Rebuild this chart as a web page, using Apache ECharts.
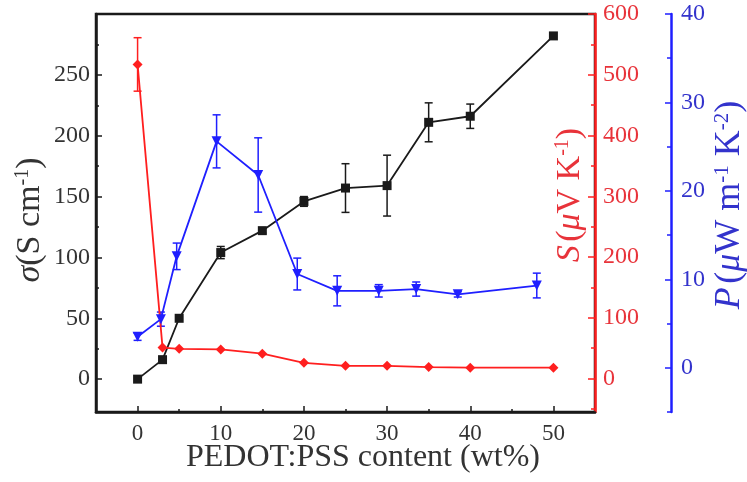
<!DOCTYPE html>
<html>
<head>
<meta charset="utf-8">
<script src="https://cdn.jsdelivr.net/npm/echarts@6/dist/echarts.min.js"></script>
<style>
  html, body { margin: 0; padding: 0; background: #fff; }
  #main { width: 747px; height: 482px; }
</style>
</head>
<body>
<div id="main"></div>
<script>
// PEDOT:PSS content (wt%)
var xContent = [0, 3, 5, 10, 15, 20, 25, 30, 35, 40, 50];
// conductivity, S cm-1
var sigma = [0, 16, 50, 104, 122, 146, 157, 159, 211, 216, 282];
var sigmaErr = [0, 0, 0, 5, 2, 4, 20, 25, 16, 10, 0];
// Seebeck, uV K-1
var seebeck = [517, 51, 49, 48, 41, 26, 21, 21, 19, 18, 18];
var seebeckErr = [44, 0, 0, 0, 0, 0, 0, 0, 0, 0, 0];
// power factor, uW m-1 K-2 (blue points sit a bit left in the figure)
var xPower = [0, 2.8, 4.7, 9.5, 14.5, 19.2, 24, 29, 33.5, 38.5, 48];
var power = [3.5, 5.5, 12.6, 25.6, 21.8, 10.6, 8.7, 8.7, 8.9, 8.3, 9.3];
var powerErr = [0.4, 0.8, 1.5, 3, 4.2, 1.8, 1.7, 0.7, 0.8, 0.3, 1.4];

var xTicks = [0, 10, 20, 30, 40, 50];
var xMinor = [-5, 5, 15, 25, 35, 45];
var sigmaTicks = [0, 50, 100, 150, 200, 250];
var sigmaMinor = [25, 75, 125, 175, 225, 275];
var seebeckTicks = [0, 100, 200, 300, 400, 500, 600];
var seebeckMinor = [-50, 50, 150, 250, 350, 450, 550];
var powerTicks = [0, 10, 20, 30, 40];
var powerMinor = [-5, 5, 15, 25, 35];

var FONT = '"Liberation Serif", "DejaVu Serif", serif';
var BLACK = '#1a1a1a', RED = '#ff1f1f', BLUE = '#1f1fff';

function pairs(xs, ys) {
    var out = [];
    for (var i = 0; i < xs.length; i++) out.push([xs[i], ys[i]]);
    return out;
}
function errData(xs, ys, es) {
    var out = [];
    for (var i = 0; i < xs.length; i++) {
        if (es[i] > 0) out.push([xs[i], ys[i] - es[i], ys[i] + es[i]]);
    }
    return out;
}
function errSeries(data, yIdx, color) {
    return {
        type: 'custom',
        xAxisIndex: 0,
        yAxisIndex: yIdx,
        data: data,
        z: 3,
        renderItem: function (params, api) {
            var lo = api.coord([api.value(0), api.value(1)]);
            var hi = api.coord([api.value(0), api.value(2)]);
            var w = 4;
            var st = { stroke: color, lineWidth: 1.5 };
            return {
                type: 'group',
                children: [
                    { type: 'line', shape: { x1: lo[0], y1: lo[1], x2: hi[0], y2: hi[1] }, style: st },
                    { type: 'line', shape: { x1: lo[0] - w, y1: lo[1], x2: lo[0] + w, y2: lo[1] }, style: st },
                    { type: 'line', shape: { x1: hi[0] - w, y1: hi[1], x2: hi[0] + w, y2: hi[1] }, style: st }
                ]
            };
        }
    };
}

function yAx(opt) {
    var base = {
        type: 'value',
        splitLine: { show: false },
        axisLine: { show: false, onZero: false },
        axisLabel: { show: false },
        axisTick: { show: false }
    };
    for (var k in opt) base[k] = opt[k];
    return base;
}

var myChart = echarts.init(document.getElementById('main'));
var option = {
    animation: false,
    backgroundColor: '#fff',
    grid: {
        left: 96, top: 14, right: 152, bottom: 70,
        show: true, borderColor: BLACK, borderWidth: 2.5, backgroundColor: 'transparent'
    },
    xAxis: [
        {
            type: 'value', min: -5, max: 55, position: 'bottom',
            splitLine: { show: false },
            axisLine: { show: true, onZero: false, lineStyle: { color: BLACK, width: 2.5 } },
            axisTick: { show: true, inside: true, length: 6, customValues: xTicks, lineStyle: { color: BLACK, width: 1.5 } },
            axisLabel: { show: true, customValues: xTicks, margin: 10, color: '#333', fontSize: 23, fontFamily: FONT }
        },
        {
            type: 'value', min: -5, max: 55, position: 'bottom',
            splitLine: { show: false },
            axisLine: { show: false, onZero: false },
            axisTick: { show: true, inside: true, length: 3, customValues: xMinor, lineStyle: { color: BLACK, width: 1.5 } },
            axisLabel: { show: false }
        }
    ],
    yAxis: [
        yAx({
            min: -27, max: 300, position: 'left',
            axisLine: { show: true, onZero: false, lineStyle: { color: BLACK, width: 2.5 } },
            axisTick: { show: true, inside: true, length: 6, customValues: sigmaTicks, lineStyle: { color: BLACK, width: 1.5 } },
            axisLabel: { show: true, customValues: sigmaTicks, margin: 6, color: '#333', fontSize: 24, fontFamily: FONT }
        }),
        yAx({
            min: -27, max: 300, position: 'left',
            axisTick: { show: true, inside: true, length: 3, customValues: sigmaMinor, lineStyle: { color: BLACK, width: 1.5 } }
        }),
        yAx({
            min: -55, max: 600, position: 'right', offset: 0,
            axisLine: { show: true, onZero: false, lineStyle: { color: RED, width: 2.5 } },
            axisTick: { show: true, inside: true, length: 7, customValues: seebeckTicks, lineStyle: { color: RED, width: 1.5 } },
            axisLabel: { show: true, customValues: seebeckTicks, margin: 8, color: '#e8333a', fontSize: 24, fontFamily: FONT }
        }),
        yAx({
            min: -55, max: 600, position: 'right', offset: 0,
            axisTick: { show: true, inside: true, length: 4, customValues: seebeckMinor, lineStyle: { color: RED, width: 1.5 } }
        }),
        yAx({
            min: -5, max: 40, position: 'right', offset: 76,
            axisLine: { show: true, onZero: false, lineStyle: { color: BLUE, width: 2.5 } },
            axisTick: { show: true, inside: true, length: 6, customValues: powerTicks, lineStyle: { color: BLUE, width: 1.5 } },
            axisLabel: { show: true, customValues: powerTicks, margin: 10, color: '#3333cc', fontSize: 24, fontFamily: FONT }
        }),
        yAx({
            min: -5, max: 40, position: 'right', offset: 76,
            axisTick: { show: true, inside: true, length: 4, customValues: powerMinor, lineStyle: { color: BLUE, width: 1.5 } }
        })
    ],
    graphic: [
        {
            type: 'text', x: 30, y: 220, rotation: Math.PI / 2,
            style: {
                text: '{i|σ}{n|(S cm}{s|-1}{n|)}', align: 'center', verticalAlign: 'middle',
                rich: {
                    i: { fontFamily: FONT, fontStyle: 'italic', fontSize: 34, fill: '#333' },
                    n: { fontFamily: FONT, fontSize: 34, fill: '#333' },
                    s: { fontFamily: FONT, fontSize: 20, fill: '#333', verticalAlign: 'top' }
                }
            }
        },
        {
            type: 'text', x: 570, y: 195, rotation: Math.PI / 2,
            style: {
                text: '{i|S} {n|(}{i|μ}{n|V K}{s|-1}{n|)}', align: 'center', verticalAlign: 'middle',
                rich: {
                    i: { fontFamily: FONT, fontStyle: 'italic', fontSize: 34, fill: '#e8333a' },
                    n: { fontFamily: FONT, fontSize: 34, fill: '#e8333a' },
                    s: { fontFamily: FONT, fontSize: 20, fill: '#e8333a', verticalAlign: 'top' }
                }
            }
        },
        {
            type: 'text', x: 730, y: 205, rotation: Math.PI / 2,
            style: {
                text: '{i|P} {n|(}{i|μ}{n|W m}{s|-1}{n| K}{s|-2}{n|)}', align: 'center', verticalAlign: 'middle',
                rich: {
                    i: { fontFamily: FONT, fontStyle: 'italic', fontSize: 36, fill: '#3333cc' },
                    n: { fontFamily: FONT, fontSize: 36, fill: '#3333cc' },
                    s: { fontFamily: FONT, fontSize: 21, fill: '#3333cc', verticalAlign: 'top' }
                }
            }
        },
        {
            type: 'text', x: 363, y: 458,
            style: {
                text: 'PEDOT:PSS content (wt%)', align: 'center', verticalAlign: 'middle',
                fontFamily: FONT, fontSize: 32, fill: '#333'
            }
        }
    ],
    series: [
        errSeries(errData(xContent, sigma, sigmaErr), 0, BLACK),
        errSeries(errData(xContent, seebeck, seebeckErr), 2, RED),
        errSeries(errData(xPower, power, powerErr), 4, BLUE),
        {
            name: 'sigma', type: 'line', xAxisIndex: 0, yAxisIndex: 0,
            data: pairs(xContent, sigma),
            symbol: 'rect', symbolSize: 9,
            lineStyle: { color: BLACK, width: 1.8 },
            itemStyle: { color: BLACK }, z: 4
        },
        {
            name: 'S', type: 'line', xAxisIndex: 0, yAxisIndex: 2,
            data: pairs(xContent, seebeck),
            symbol: 'diamond', symbolSize: 10,
            lineStyle: { color: RED, width: 1.8 },
            itemStyle: { color: RED }, z: 4
        },
        {
            name: 'P', type: 'line', xAxisIndex: 0, yAxisIndex: 4,
            data: pairs(xPower, power),
            symbol: 'triangle', symbolSize: 10, symbolRotate: 180,
            lineStyle: { color: BLUE, width: 1.8 },
            itemStyle: { color: BLUE }, z: 4
        }
    ]
};
myChart.setOption(option);
</script>
</body>
</html>
